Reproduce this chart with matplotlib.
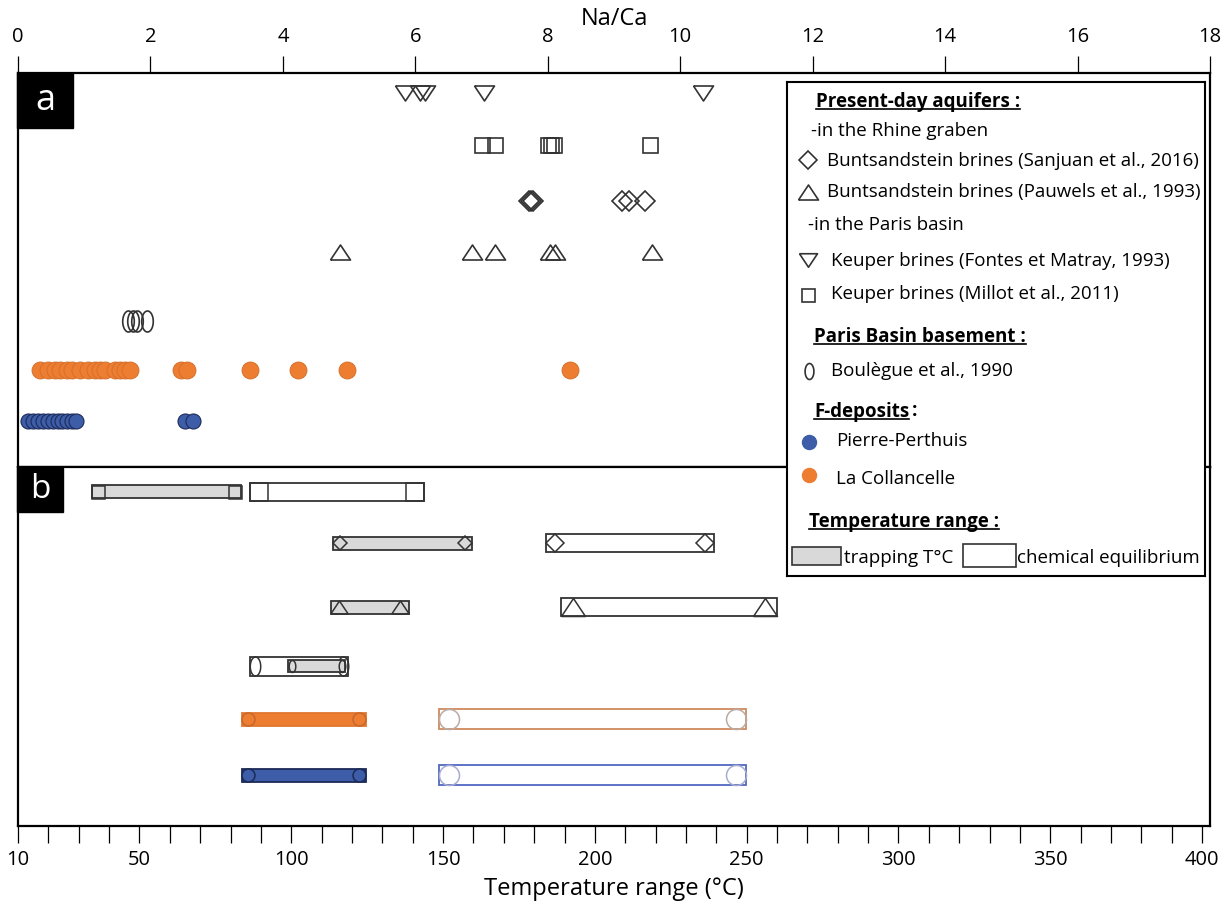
import numpy as np
import matplotlib.pyplot as plt
from matplotlib.patches import Rectangle

plt.rcParams['font.family'] = ['Open Sans', 'DejaVu Sans']

# ---- panel a : Na/Ca ratios ----
keuper_fontes = [5.84, 6.07, 6.15, 7.04, 10.34]
keuper_millot = [7.00, 7.21, 8.00, 8.05, 8.09, 9.55]
sanjuan = [7.72, 7.75, 7.78, 9.12, 9.22, 9.47]
pauwels = [4.86, 6.85, 7.21, 8.03, 8.11, 9.58]
boulegue = [1.66, 1.74, 1.80, 1.95]
collancelle = [0.33, 0.45, 0.56, 0.63, 0.74, 0.82, 0.94, 1.06, 1.16, 1.24, 1.31,
               1.46, 1.54, 1.62, 1.69, 2.46, 2.55, 3.50, 4.23, 4.97, 8.34]
pierre_perthuis = [0.15, 0.23, 0.30, 0.38, 0.45, 0.53, 0.60, 0.66, 0.74, 0.82,
                   0.88, 2.52, 2.64]

# ---- panel b : temperature ranges (°C) ----
# rows: Keuper, Sanjuan, Pauwels, Boulègue, La Collancelle, Pierre-Perthuis
trap_lo = [34.3, 113.9, 113.0, 99.0, 83.7, 83.7]
trap_hi = [83.5, 159.4, 138.8, 117.7, 124.5, 124.5]
equi_lo = [86.4, 183.9, 188.9, 86.4, 148.7, 148.7]
equi_hi = [143.8, 239.3, 259.9, 118.8, 249.7, 249.7]

naca_ticks = list(range(0, 19, 2))
temp_ticks = list(range(10, 401, 10))
temp_labels = [10, 50, 100, 150, 200, 250, 300, 350, 400]

# styles
INK = '#333333'
GREY = '#d9d9d9'
BLUE, BLUE_EDGE = '#3d5da9', '#1c2a57'
ORANGE, ORANGE_EDGE = '#ed7d31', '#d26d2a'

W, H = 1226, 906


def frame(x0, y0, x1, y1):
    return [x0 / W, 1 - y1 / H, (x1 - x0) / W, (y1 - y0) / H]


def pt(px):
    return px * 0.72


tri_down = [(-1, 0.75), (1, 0.75), (0, -0.75), (-1, 0.75)]
tri_up = [(-1, -0.75), (1, -0.75), (0, 0.75), (-1, -0.75)]
tt = np.linspace(0, 2 * np.pi, 60)
ellipse = list(zip(0.55 * np.cos(tt), np.sin(tt)))

fig = plt.figure(figsize=(12.26, 9.06), dpi=100)

# ---------------- panel a ----------------
ax_a = fig.add_axes(frame(18, 73, 1210, 467))
ax_a.set_xlim(0, 18)
ax_a.set_ylim(7.7, 0)
rows_a = [0.4, 1.4, 2.5, 3.5, 4.85, 5.8, 6.8]
hollow = dict(linestyle='none', markerfacecolor='none', markeredgecolor=INK,
              markeredgewidth=1.2)

ax_a.plot(keuper_fontes, [rows_a[0]] * len(keuper_fontes), marker=tri_down,
          markersize=pt(20), **hollow)
ax_a.plot(keuper_millot, [rows_a[1]] * len(keuper_millot), marker='s',
          markersize=pt(15), **hollow)
ax_a.plot(sanjuan, [rows_a[2]] * len(sanjuan), marker='D',
          markersize=pt(14), **hollow)
ax_a.plot(pauwels, [rows_a[3]] * len(pauwels), marker=tri_up,
          markersize=pt(20), **hollow)
ax_a.plot(boulegue, [rows_a[4]] * len(boulegue), marker=ellipse,
          markersize=pt(21), **hollow)
ax_a.plot(collancelle, [rows_a[5]] * len(collancelle), 'o', color=ORANGE,
          markeredgecolor=ORANGE_EDGE, markeredgewidth=0.6, markersize=pt(17))
ax_a.plot(pierre_perthuis, [rows_a[6]] * len(pierre_perthuis), 'o', color=BLUE,
          markeredgecolor=BLUE_EDGE, markeredgewidth=0.8, markersize=pt(15))

ax_a.set_xticks(naca_ticks)
ax_a.xaxis.tick_top()
ax_a.tick_params(axis='x', top=True, bottom=False, labeltop=True, labelbottom=False,
                 direction='out', length=12, width=0.9, pad=7, labelsize=14.5)
ax_a.set_yticks([])
ax_a.xaxis.set_label_position('top')
ax_a.set_xlabel('Na/Ca', fontsize=17, labelpad=1)
for s in ax_a.spines.values():
    s.set_linewidth(1.6)

# ---------------- panel b ----------------
ax_b = fig.add_axes(frame(18, 467, 1210, 826))
ax_b.set_xlim(10, 402.6)
ax_b.set_ylim(359, 0)
rows_b = [25, 76, 140, 199, 252, 308]
deg_px = (402.6 - 10) / 1192.0

trap_h = [13, 13, 13, 12, 13, 13]
equi_h = [18, 18, 18, 19, 20, 20]
trap_face = [GREY, GREY, GREY, GREY, ORANGE, BLUE]
trap_edge = [INK, INK, INK, INK, '#e0772f', BLUE_EDGE]
equi_edge = [INK, INK, INK, INK, '#d08a5e', '#5068c0']
mk_face = [None, None, None, None, ORANGE, BLUE]
mk_edge_t = [INK, INK, INK, INK, '#c8682a', '#1c2a57']
mk_edge_e = [INK, INK, INK, INK, '#b9aba6', '#a9acd2']

for i, y in enumerate(rows_b):
    ax_b.barh(y, equi_hi[i] - equi_lo[i], left=equi_lo[i], height=equi_h[i],
              color='white', edgecolor=equi_edge[i], linewidth=1.3, zorder=2)
    ax_b.barh(y, trap_hi[i] - trap_lo[i], left=trap_lo[i], height=trap_h[i],
              color=trap_face[i], edgecolor=trap_edge[i], linewidth=1.3, zorder=3)

    for lo, hi, h, ec, face, z in [
        (equi_lo[i], equi_hi[i], equi_h[i], mk_edge_e[i], 'none', 2.5),
        (trap_lo[i], trap_hi[i], trap_h[i], mk_edge_t[i],
         mk_face[i] if mk_face[i] else 'none', 3.5)]:
        if i == 0:
            m, ms, half = 's', h, h / 2
        elif i == 1:
            m, ms, half = 'D', h / 1.414, h / 2
        elif i == 2:
            m, ms, half = tri_up, h / 0.75, h / 0.75 / 2
        elif i == 3:
            m, ms, half = ellipse, h, 0.55 * h / 2
        else:
            m, ms, half = 'o', h, h / 2
        ax_b.plot([lo + half * deg_px, hi - half * deg_px], [y, y], linestyle='none',
                  marker=m, markersize=pt(ms), markerfacecolor=face,
                  markeredgecolor=ec, markeredgewidth=1.1, zorder=z)

ax_b.set_xticks(temp_ticks)
ax_b.set_xticklabels([str(t) if t in temp_labels else '' for t in temp_ticks])
ax_b.tick_params(axis='x', direction='out', length=12, width=0.9, pad=5, labelsize=14.5)
ax_b.set_yticks([])
ax_b.set_xlabel('Temperature range (°C)', fontsize=17, labelpad=5)
for s in ax_b.spines.values():
    s.set_linewidth(1.6)

# panel tags
for x0, y0, x1, y1, tag, fs in [(17, 73, 73, 128, 'a', 26), (17, 468, 63, 512, 'b', 24)]:
    fig.add_artist(Rectangle((x0 / W, 1 - y1 / H), (x1 - x0) / W, (y1 - y0) / H,
                             transform=fig.transFigure, color='black', zorder=5))
    fig.text((x0 + x1) / 2 / W, 1 - (y0 + y1) / 2 / H, tag, color='white',
             fontsize=fs, ha='center', va='center', zorder=6)

# ---------------- legend box ----------------
lg = fig.add_axes(frame(787, 82, 1205, 576), zorder=10)
lg.set_xlim(787, 1205)
lg.set_ylim(576, 82)
lg.set_xticks([])
lg.set_yticks([])
lg.set_facecolor('white')
for s in lg.spines.values():
    s.set_linewidth(1.5)

FS = 13.5
headers = []
for x, y, s in [(816, 106.5, 'Present-day aquifers :'),
                (814, 341.5, 'Paris Basin basement :'),
                (814, 416.5, 'F-deposits'),
                (809, 526.5, 'Temperature range :')]:
    headers.append(lg.text(x, y, s, fontsize=FS, fontweight='bold', va='baseline'))

for x, y, s in [(811, 135.5, '-in the Rhine graben'),
                (827, 165.5, 'Buntsandstein brines (Sanjuan et al., 2016)'),
                (827, 197.5, 'Buntsandstein brines (Pauwels et al., 1993)'),
                (808, 230, '-in the Paris basin'),
                (831, 265.5, 'Keuper brines (Fontes et Matray, 1993)'),
                (831, 299, 'Keuper brines (Millot et al., 2011)'),
                (831, 376.5, 'Boulègue et al., 1990'),
                (836, 446.5, 'Pierre-Perthuis'),
                (836, 484, 'La Collancelle'),
                (844, 563, 'trapping T°C'),
                (1017, 563, 'chemical equilibrium')]:
    lg.text(x, y, s, fontsize=FS, va='baseline')

lg.plot(807.7, 160, linestyle='none', marker='D', markersize=pt(12.7),
        markerfacecolor='none', markeredgecolor=INK, markeredgewidth=1.2)
lg.plot(807.7, 191.5, linestyle='none', marker=tri_up, markersize=pt(20),
        markerfacecolor='none', markeredgecolor=INK, markeredgewidth=1.2)
lg.plot(807.7, 260, linestyle='none', marker=tri_down, markersize=pt(18),
        markerfacecolor='none', markeredgecolor=INK, markeredgewidth=1.2)
lg.plot(807.7, 295, linestyle='none', marker='s', markersize=pt(13),
        markerfacecolor='none', markeredgecolor=INK, markeredgewidth=1.2)
lg.plot(809, 370.7, linestyle='none', marker=ellipse, markersize=pt(16),
        markerfacecolor='none', markeredgecolor=INK, markeredgewidth=1.2)
lg.plot(809, 441.7, 'o', color=BLUE, markersize=pt(14))
lg.plot(809, 475, 'o', color=ORANGE, markersize=pt(14))
lg.add_patch(Rectangle((792.3, 546.7), 48.7, 18.3, facecolor=GREY, edgecolor=INK, lw=1.2))
lg.add_patch(Rectangle((962.7, 544), 53.3, 22.7, facecolor='white', edgecolor=INK, lw=1.2))

fig.canvas.draw()
r = fig.canvas.get_renderer()
inv = lg.transData.inverted()
for t in headers:
    bb = t.get_window_extent(r)
    xa = inv.transform((bb.x0, bb.y0))[0]
    xb = inv.transform((bb.x1, bb.y0))[0]
    yb = t.get_position()[1] + 2
    lg.plot([xa, xb], [yb, yb], color='black', lw=1.2)
    if t.get_text() == 'F-deposits':
        lg.text(xb + 3, t.get_position()[1], ':', fontsize=FS, fontweight='bold',
                va='baseline')

fig.savefig('out.png', dpi=100)
